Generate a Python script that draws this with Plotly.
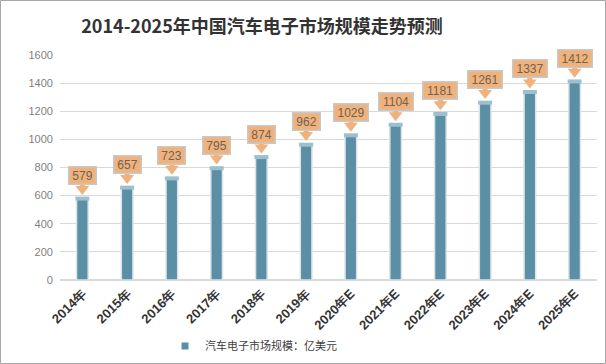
import plotly.graph_objects as go

categories = ["2014年", "2015年", "2016年", "2017年", "2018年", "2019年",
              "2020年E", "2021年E", "2022年E", "2023年E", "2024年E", "2025年E"]
values = [579, 657, 723, 795, 874, 962, 1029, 1104, 1181, 1261, 1337, 1412]
series_name = "汽车电子市场规模：亿美元"
title_text = "2014-2025年中国汽车电子市场规模走势预测"

W, H = 606, 364
L, R, T, B = 60, 9, 55, 84
pw, ph = W - L - R, H - T - B
YMAX = 1600
px = YMAX / ph  # data units per pixel

fig = go.Figure()
fig.add_trace(go.Bar(
    x=categories, y=values, name=series_name, showlegend=False, hoverinfo="skip",
    marker=dict(color="#5B8FA6", line=dict(color="#DCE3E7", width=1.5)),
    width=0.26,
))
# cylinder top caps
fig.add_trace(go.Scatter(
    x=categories, y=values, mode="markers", showlegend=False, hoverinfo="skip",
    marker=dict(symbol="line-ew-open", size=10, color="#9DC0CF", line=dict(color="#9DC0CF", width=4)),
))
# callout arrow shafts and heads
fig.add_trace(go.Scatter(
    x=categories, y=[v + 14 * px for v in values], mode="markers", showlegend=False, hoverinfo="skip",
    marker=dict(symbol="square", size=5, color="#F0B27A", line=dict(width=0)),
))
fig.add_trace(go.Scatter(
    x=categories, y=[v + 9.6 * px for v in values], mode="markers", showlegend=False, hoverinfo="skip",
    marker=dict(symbol="triangle-down", size=12, color="#F0B27A", line=dict(width=0)),
))
# legend entry (small square)
fig.add_trace(go.Scatter(
    x=[categories[0]], y=[None], mode="markers", name=series_name, showlegend=True,
    marker=dict(symbol="square", size=7, color="#5B8FA6"),
))

for c, v in zip(categories, values):
    s = str(v)
    fig.add_annotation(
        x=c, y=v, text=s, showarrow=False, yshift=23, yanchor="middle",
        width=7 * len(s) + 5, height=16,
        bgcolor="#F0B27A", bordercolor="#C8C8C8", borderwidth=1.5,
        borderpad=0, font=dict(family="Liberation Sans, Arial", size=12, color="#6E6259"),
    )

# outer border
fig.add_shape(type="rect", xref="paper", yref="paper",
              x0=-(L - 0.5) / pw, x1=1 + (R - 0.5) / pw,
              y0=-(B - 0.5) / ph, y1=1 + (T - 0.5) / ph,
              line=dict(color="#A6A6A6", width=1), layer="below")

fig.update_layout(
    width=W, height=H,
    margin=dict(l=L, r=R, t=T, b=B, autoexpand=False),
    paper_bgcolor="white", plot_bgcolor="white",
    title=dict(text=title_text, x=262 / W, xanchor="center", xref="container",
               y=1 - 27 / H, yanchor="middle",
               font=dict(family="Noto Sans CJK SC", size=18, color="#333333", weight="bold")),
    showlegend=True,
    legend=dict(orientation="h", x=(165 - L) / pw, xanchor="left", y=(280 - 346) / ph, yanchor="middle",
                font=dict(family="Noto Sans CJK SC", size=11, color="#404040"),
                itemwidth=30),
    xaxis=dict(range=[-0.5, len(categories) - 0.5], tickangle=-45,
               tickfont=dict(family="Liberation Sans, Arial", size=13, color="#333333", weight="bold"),
               showline=True, linecolor="#D9D9D9", ticks="", automargin=False),
    yaxis=dict(range=[0, YMAX], dtick=200, showgrid=True, gridcolor="#D9D9D9", gridwidth=1,
               zeroline=True, zerolinecolor="#D9D9D9",
               tickfont=dict(family="Liberation Sans, Arial", size=11, color="#7F7F7F"),
               ticksuffix="  ", automargin=False),
)

fig.write_html("out.html", config={"displayModeBar": False, "responsive": False},
               post_script="document.body.style.margin='0';document.body.style.overflow='hidden';")
